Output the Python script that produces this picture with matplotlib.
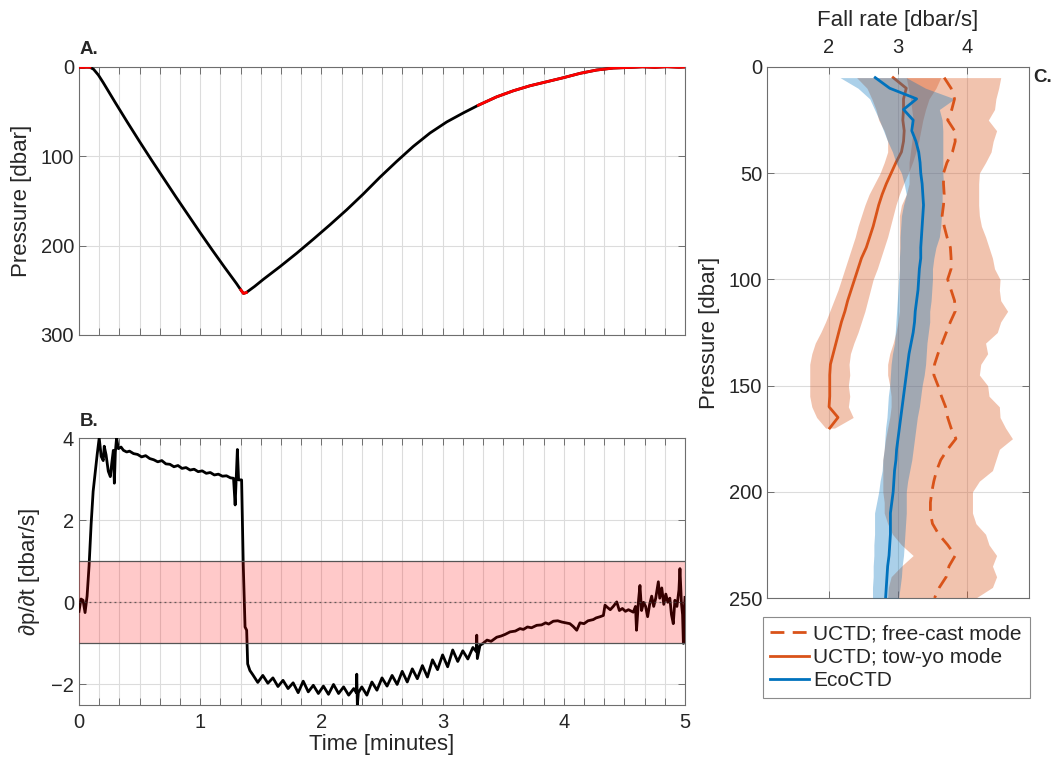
import numpy as np
import matplotlib
matplotlib.use("Agg")
import matplotlib.pyplot as plt
from matplotlib.lines import Line2D

plt.rcParams['font.family'] = ['Liberation Sans', 'DejaVu Sans']
TXT = '#262626'
EDGE = '#6e6e6e'
GRID = '#dcdcdc'
ORANGE = '#D95319'
BLUE = '#0072BD'

# ---------------- Panel A: pressure vs time ----------------
time_a = [0.00, 0.03, 0.06, 0.09, 0.12, 0.16, 0.20, 0.30, 0.40, 0.50, 0.60, 0.70, 0.80,
          0.90, 1.00, 1.10, 1.20, 1.30, 1.335, 1.357, 1.38, 1.45, 1.521, 1.658, 1.796,
          1.933, 2.071, 2.209, 2.346, 2.483, 2.621, 2.758, 2.896, 3.034, 3.171, 3.295,
          3.446, 3.584, 3.721, 3.859, 3.996, 4.134, 4.271, 4.409, 4.546, 4.65, 4.75, 4.85,
          4.95, 5.00]
pres_a = [0.3, 0.5, 0.2, 0.3, 2.5, 9.0, 17.5, 40.0, 62.0, 83.5, 104.5, 125.0, 145.5,
          165.5, 185.5, 205.0, 224.0, 242.5, 249.5, 253.5, 252.5, 245.5, 237.7, 223.5, 208.5,
          192.8, 176.6, 159.8, 142.1, 123.4, 105.7, 88.9, 73.9, 61.5, 51.4, 42.8,
          33.4, 26.6, 21.0, 16.5, 12.0, 7.1, 3.4, 1.2, 0.5, -0.2, 0.4, -0.3, 0.3, 0.0]
red_ranges_a = [(0.0, 0.09), (1.335, 1.38), (3.295, 5.0)]

# ---------------- Panel B: dp/dt vs time (seconds) ----------------
time_b = [0, 1, 2, 3, 4, 5, 6, 7, 8, 9, 10, 11, 12, 12.5, 13.4, 14.5, 15.5, 16.2, 17, 17.5,
          18, 18.6, 19.5, 20.8, 22, 23.6, 25, 27, 29, 31, 33, 35, 37, 39, 41, 43, 45, 47,
          49, 51, 53, 55, 57, 59, 61, 63, 65, 67, 69, 71, 73, 75, 76.5, 77.3, 77.8, 78.4,
          79, 80.5, 81.3, 82.2, 83, 83.5, 84.6,
          86.0, 88.5, 91.0, 93.5, 96.0, 98.5, 101.0, 103.5, 106.0, 108.5, 111.0, 113.5,
          116.0, 118.5, 121.0, 123.5, 126.0, 128.5, 131.0, 133.5, 136.0, 137.3, 137.5,
          137.8, 138.3, 140.0, 142.5, 145.0, 147.5, 150.0, 152.5, 155.0, 157.5, 160.0,
          162.5, 165.0, 167.5, 170.0, 172.5, 175.0, 177.5, 180.0, 182.5, 185.0, 187.5,
          190.0, 192.5, 195.0, 196.7, 196.9, 197.2, 198.5, 200.0, 202, 204, 206.8, 209,
          211, 213.4, 216, 218.3, 220, 222, 224, 226.6, 229, 231, 232.5, 234.8, 237, 239,
          241, 243, 244.7, 246.4, 248, 250, 252, 254.6, 256, 258, 259.6, 260.4, 261.5,
          263, 264.5, 266.2, 267.5, 269, 270.5, 272, 274.4, 275.5, 276.0, 277.0, 277.7,
          278.5, 279.5, 280.5, 281.5, 282.5, 283.5, 284.5, 285.5, 286.8, 287.5, 288.5,
          289.5, 290.5, 291.5, 292.5, 293.3, 294.2, 295.0, 296.0, 297.0, 297.5, 298.2,
          298.8, 299.2, 299.6, 300.0]
rate_b = [-0.22, 0.08, 0.05, -0.25, 0.15, 0.9, 1.9, 2.7, 3.15, 3.6, 4.0, 3.55, 3.45, 3.8,
          3.59, 3.19, 3.06, 3.38, 3.7, 2.9, 3.66, 4.0, 3.74, 3.78, 3.7, 3.66, 3.68, 3.62,
          3.6, 3.54, 3.57, 3.5, 3.47, 3.42, 3.45, 3.37, 3.36, 3.3, 3.33, 3.26, 3.28, 3.22,
          3.24, 3.18, 3.2, 3.14, 3.16, 3.1, 3.12, 3.07, 3.08, 3.03, 3.02, 2.37, 3.0, 3.72,
          2.98, 2.98, 0.94, -0.6, -0.68, -1.5, -1.66,
          -1.76, -1.95, -1.78, -1.97, -1.84, -2.05, -1.9, -2.1, -1.96, -2.2, -1.92,
          -2.18, -2.02, -2.22, -2.04, -2.24, -2.0, -2.22, -2.06, -2.26, -2.1, -2.2, -1.75,
          -2.5, -2.2, -2.06, -2.26, -1.94, -2.14, -1.84, -2.04, -1.78, -2.0, -1.68,
          -1.94, -1.62, -1.86, -1.54, -1.82, -1.4, -1.64, -1.28, -1.57, -1.16, -1.44,
          -1.18, -1.38, -1.1, -1.2, -0.8, -1.37, -1.05, -1.0, -0.92, -0.95, -0.85, -0.82,
          -0.78, -0.72, -0.7, -0.64, -0.66, -0.6, -0.62, -0.56, -0.55, -0.5, -0.53, -0.46,
          -0.45, -0.48, -0.5, -0.52, -0.59, -0.68, -0.5, -0.52, -0.45, -0.42, -0.38, -0.35,
          -0.32, -0.07, -0.12, -0.18, -0.1, 0.01, -0.2, -0.15, -0.22, -0.18, -0.24, -0.1,
          -0.68, 0.05, 0.41, -0.2, 0.0, -0.1, -0.35, -0.05, 0.15, -0.1, 0.1, 0.5, 0.1, 0.35,
          -0.05, 0.2, 0.0, 0.1, -0.3, -0.52, 0.05, -0.1, 0.3, 0.82, 0.0, -0.3, -1.0, -0.2,
          0.12]

# ---------------- Panel C: fall-rate profiles ----------------
pres_c = [5, 10, 15, 20, 25, 30, 35, 40, 45, 50, 55, 60, 65, 70, 75, 80, 85, 90, 95, 100,
          105, 110, 115, 120, 125, 130, 135, 140, 145, 150, 155, 160, 165, 170, 175, 180,
          185, 190, 195, 200, 205, 210, 215, 220, 225, 230, 235, 240, 245, 250]
eco_mean = [2.67, 2.88, 3.27, 3.08, 3.22, 3.20, 3.26, 3.30, 3.32, 3.33, 3.35, 3.36, 3.37,
            3.36, 3.35, 3.34, 3.33, 3.33, 3.31, 3.30, 3.29, 3.27, 3.25, 3.24, 3.22, 3.19,
            3.16, 3.14, 3.12, 3.10, 3.08, 3.06, 3.04, 3.02, 3.00, 2.98, 2.97, 2.95, 2.94,
            2.93, 2.91, 2.89, 2.89, 2.89, 2.88, 2.87, 2.85, 2.84, 2.83, 2.82]
eco_low = [2.16, 2.42, 2.59, 2.66, 2.73, 2.79, 2.85, 2.92, 2.97, 3.05, 3.09, 3.12, 3.08,
           3.05, 3.04, 3.03, 3.03, 3.02, 3.02, 3.01, 3.00, 2.99, 2.98, 2.97, 2.96, 2.95,
           2.92, 2.90, 2.89, 2.88, 2.86, 2.85, 2.84, 2.82, 2.81, 2.80, 2.78, 2.77, 2.74,
           2.72, 2.69, 2.66, 2.66, 2.66, 2.65, 2.65, 2.64, 2.64, 2.63, 2.63]
eco_high = [3.12, 3.40, 3.82, 3.60, 3.64, 3.65, 3.65, 3.65, 3.65, 3.65, 3.66, 3.64, 3.64,
            3.63, 3.62, 3.60, 3.55, 3.52, 3.50, 3.50, 3.49, 3.48, 3.46, 3.46, 3.44, 3.42,
            3.41, 3.40, 3.38, 3.35, 3.33, 3.31, 3.28, 3.26, 3.24, 3.22, 3.20, 3.17, 3.14,
            3.12, 3.12, 3.12, 3.11, 3.10, 3.09, 3.08, 3.06, 3.05, 3.03, 3.01]
free_mean = [3.67, 3.77, 3.82, 3.78, 3.72, 3.82, 3.83, 3.79, 3.71, 3.66, 3.66, 3.67, 3.66,
             3.64, 3.67, 3.71, 3.76, 3.77, 3.77, 3.72, 3.77, 3.82, 3.83, 3.76, 3.70, 3.64,
             3.58, 3.53, 3.52, 3.58, 3.63, 3.69, 3.72, 3.77, 3.84, 3.72, 3.62, 3.56, 3.52,
             3.49, 3.47, 3.47, 3.50, 3.59, 3.72, 3.83, 3.74, 3.70, 3.60, 3.53]
free_low = [3.12, 3.15, 3.18, 3.20, 3.22, 3.22, 3.20, 3.18, 3.16, 3.16, 3.16, 3.12, 3.05,
            3.02, 3.02, 3.02, 3.02, 3.02, 3.02, 3.02, 3.02, 3.02, 3.02, 3.00, 2.97, 2.93,
            2.88, 2.85, 2.85, 2.88, 2.90, 2.90, 2.88, 2.85, 2.82, 2.80, 2.78, 2.78, 2.78,
            2.78, 2.80, 2.80, 2.85, 2.92, 3.05, 3.22, 3.05, 2.90, 2.86, 2.85]
free_high = [4.49, 4.46, 4.42, 4.40, 4.31, 4.43, 4.38, 4.35, 4.27, 4.18, 4.17, 4.17, 4.17,
             4.18, 4.21, 4.27, 4.32, 4.37, 4.40, 4.48, 4.47, 4.49, 4.59, 4.49, 4.44, 4.27,
             4.30, 4.20, 4.18, 4.30, 4.32, 4.47, 4.48, 4.56, 4.66, 4.47, 4.42, 4.37, 4.18,
             4.08, 4.08, 4.08, 4.13, 4.27, 4.32, 4.43, 4.37, 4.43, 4.37, 4.13]
tow_pres = [5, 10, 15, 20, 25, 30, 35, 40, 45, 50, 55, 60, 65, 70, 75, 80, 85, 90, 95, 100,
            105, 110, 115, 120, 125, 130, 135, 140, 145, 150, 155, 160, 165, 170]
tow_mean = [2.93, 3.12, 3.08, 3.08, 3.07, 3.09, 3.08, 3.05, 2.97, 2.90, 2.83, 2.77, 2.72,
            2.68, 2.64, 2.59, 2.54, 2.47, 2.42, 2.37, 2.32, 2.27, 2.23, 2.18, 2.14, 2.10,
            2.06, 2.02, 2.01, 2.01, 2.01, 2.00, 2.13, 2.01]
tow_low = [2.40, 2.55, 2.62, 2.68, 2.72, 2.80, 2.85, 2.85, 2.80, 2.74, 2.66, 2.58, 2.52,
           2.47, 2.42, 2.38, 2.33, 2.28, 2.23, 2.18, 2.13, 2.07, 2.01, 1.95, 1.88, 1.80,
           1.75, 1.72, 1.72, 1.72, 1.72, 1.75, 1.82, 1.95]
tow_high = [3.62, 3.55, 3.45, 3.40, 3.36, 3.33, 3.30, 3.26, 3.21, 3.15, 3.08, 3.02, 2.97,
            2.93, 2.89, 2.85, 2.80, 2.75, 2.70, 2.64, 2.60, 2.56, 2.52, 2.47, 2.42, 2.36,
            2.31, 2.29, 2.30, 2.28, 2.30, 2.28, 2.35, 2.08]
legend_labels = ['UCTD; free-cast mode', 'UCTD; tow-yo mode', 'EcoCTD']

W, H = 1056, 762
fig = plt.figure(figsize=(W / 100, H / 100), dpi=100)
TICK_FS = 14.5
LAB_FS = 16


def frac(l, t, r, b):
    return [l / W, 1 - b / H, (r - l) / W, (b - t) / H]


def style(ax):
    for s in ax.spines.values():
        s.set_color(EDGE)
        s.set_linewidth(0.8)
    ax.tick_params(direction='in', length=5, width=0.7, color=EDGE, labelcolor=TXT,
                   labelsize=TICK_FS, top=True, right=True)
    ax.grid(True, color=GRID, lw=0.8)
    ax.set_axisbelow(True)


minor_pos = [i / 6 for i in range(31)]
minor_lab = [str(i // 6) if i % 6 == 0 else '' for i in range(31)]

# Panel A
axA = fig.add_axes(frac(79, 67, 685, 335))
style(axA)
ta = np.array(time_a)
pa = np.array(pres_a)
axA.plot(ta, pa, color='k', lw=2.0, zorder=3)
for t0, t1 in red_ranges_a:
    m = (ta >= t0 - 1e-9) & (ta <= t1 + 1e-9)
    axA.plot(ta[m], pa[m], color='#ff0000', lw=2.0, zorder=4)
axA.set_xlim(0, 5)
axA.set_ylim(300, 0)
axA.set_yticks([0, 100, 200, 300])
axA.set_xticks(minor_pos)
axA.set_xticklabels([])
axA.set_ylabel('Pressure [dbar]', fontsize=LAB_FS, color=TXT, labelpad=6)
fig.text(80 / W, 1 - 50 / H, 'A.', fontsize=13.5, fontweight='bold', color=TXT, va='center')

# Panel B
axB = fig.add_axes(frac(79, 438, 685, 705))
style(axB)
tb = np.array(time_b) / 60.0
axB.plot(tb, rate_b, color='k', lw=2.0, zorder=3)
axB.axhspan(-1, 1, color='#ff0000', alpha=0.21, lw=0, zorder=4)
axB.axhline(1, color='#555555', lw=0.9, zorder=5)
axB.axhline(-1, color='#555555', lw=0.9, zorder=5)
axB.axhline(0, color='#444444', lw=0.9, ls=(0, (1.5, 2.5)), alpha=0.8, zorder=5)
axB.set_xlim(0, 5)
axB.set_ylim(-2.5, 4)
axB.set_yticks([-2, 0, 2, 4])
axB.set_xticks(minor_pos)
axB.set_xticklabels(minor_lab)
axB.tick_params(axis='x', pad=6)
axB.set_xlabel('Time [minutes]', fontsize=LAB_FS, color=TXT, labelpad=1)
axB.set_ylabel('∂p/∂t [dbar/s]', fontsize=LAB_FS, color=TXT, labelpad=8)
fig.text(80 / W, 1 - 421 / H, 'B.', fontsize=13.5, fontweight='bold', color=TXT, va='center')

# Panel C
axC = fig.add_axes(frac(767, 67, 1029, 598))
style(axC)
axC.fill_betweenx(pres_c, free_low, free_high, color=ORANGE, alpha=0.35, lw=0, zorder=2)
axC.fill_betweenx(tow_pres, tow_low, tow_high, color=ORANGE, alpha=0.35, lw=0, zorder=2)
axC.plot(tow_mean, tow_pres, color=ORANGE, lw=2.0, zorder=3)
axC.fill_betweenx(pres_c, eco_low, eco_high, color=BLUE, alpha=0.33, lw=0, zorder=4)
axC.plot(free_mean, pres_c, color=ORANGE, lw=2.0, ls=(0, (5, 3)), zorder=5)
axC.plot(eco_mean, pres_c, color=BLUE, lw=2.0, zorder=6)
axC.set_xlim(1.1, 4.9)
axC.set_ylim(250, 0)
axC.set_xticks([2, 3, 4])
axC.set_yticks([0, 50, 100, 150, 200, 250])
axC.tick_params(labeltop=True, labelbottom=False)
axC.tick_params(axis='x', pad=7)
axC.xaxis.set_label_position('top')
axC.set_xlabel('Fall rate [dbar/s]', fontsize=LAB_FS, color=TXT, labelpad=9)
axC.set_ylabel('Pressure [dbar]', fontsize=LAB_FS, color=TXT, labelpad=6)
fig.text(1033 / W, 1 - 77 / H, 'C.', fontsize=13.5, fontweight='bold', color=TXT, va='center')

handles = [Line2D([], [], color=ORANGE, lw=2.0, ls=(0, (5, 3))),
           Line2D([], [], color=ORANGE, lw=2.0),
           Line2D([], [], color=BLUE, lw=2.0)]
leg = fig.legend(handles, legend_labels, loc='upper left',
                 bbox_to_anchor=(763 / W, 1 - 700 / H, (1030 - 763) / W, (700 - 617) / H),
                 mode='expand', fontsize=15, frameon=True, fancybox=False,
                 handlelength=1.85, handletextpad=0.2, borderpad=0.35, labelspacing=0.22,
                 borderaxespad=0)
leg.get_frame().set_edgecolor(EDGE)
leg.get_frame().set_linewidth(0.8)
for t in leg.get_texts():
    t.set_color(TXT)

fig.savefig('out.png', dpi=100)
